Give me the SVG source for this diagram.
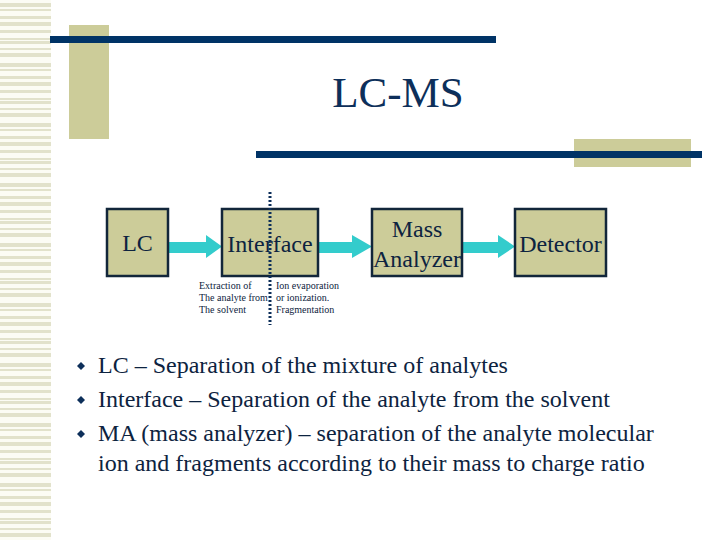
<svg xmlns="http://www.w3.org/2000/svg" width="720" height="540" viewBox="0 0 720 540">
<defs>
<pattern id="stripes" x="0" y="0" width="51" height="60" patternUnits="userSpaceOnUse">
<rect x="0" y="0" width="51" height="60" fill="#fcfcf4"/>
<rect x="0" y="3" width="51" height="4" fill="#e2e2cb"/>
<rect x="0" y="9" width="51" height="2" fill="#e2e2cb"/>
<rect x="0" y="16" width="51" height="3" fill="#e2e2cb"/>
<rect x="0" y="22" width="51" height="4" fill="#e2e2cb"/>
<rect x="0" y="30" width="51" height="3" fill="#e2e2cb"/>
<rect x="0" y="38" width="51" height="2" fill="#e2e2cb"/>
<rect x="0" y="41" width="51" height="3" fill="#e2e2cb"/>
<rect x="0" y="48" width="51" height="2" fill="#e2e2cb"/>
<rect x="0" y="53" width="51" height="4" fill="#e2e2cb"/>
</pattern>
</defs>
<style>
.box{fill:#cccc99;stroke:#12263a;stroke-width:2.5}
.arrow{fill:#33cccc}
.dia{fill:#0d2f5a}
</style>
<rect x="0" y="0" width="720" height="540" fill="#ffffff"/>
<rect x="0" y="0" width="51" height="540" fill="url(#stripes)"/>
<g id="decor">
<rect x="69" y="25" width="40" height="114" fill="#cccc99"/>
<rect x="50" y="36" width="446" height="7" fill="#003366"/>
<rect x="574" y="139" width="117" height="28" fill="#cccc99"/>
<rect x="256" y="151" width="446" height="7" fill="#003366"/>
</g>
<text id="title" x="398" y="107" font-family="'Liberation Serif', serif" font-size="43" fill="#0d2f5a" text-anchor="middle">LC-MS</text>
<g id="connectors">
<polygon class="arrow" points="168,242 206,242 206,235 222,246.5 206,258 206,253 168,253"/>
<polygon class="arrow" points="318,242 352,242 352,235 372,246.5 352,258 352,253 318,253"/>
<polygon class="arrow" points="462,242 498,242 498,235 515,246.5 498,258 498,253 462,253"/>
</g>
<g font-family="'Liberation Serif', serif" font-size="24" fill="#0d2340" text-anchor="middle">
<g id="lc"><rect class="box" x="107" y="209" width="61" height="67"/><text x="137.5" y="251">LC</text></g>
<g id="interface"><rect class="box" x="222" y="209" width="96" height="67"/><text x="270" y="252">Interface</text></g>
<g id="mass"><rect class="box" x="372" y="209" width="90" height="67"/><text x="417" y="237">Mass</text><text x="417" y="267">Analyzer</text></g>
<g id="detector"><rect class="box" x="515" y="209" width="91" height="67"/><text x="560.5" y="252">Detector</text></g>
</g>
<line id="divider" x1="270" y1="192" x2="270" y2="325" stroke="#0d2f5a" stroke-width="3" stroke-dasharray="2,2"/>
<g id="notes" font-family="'Liberation Serif', serif" font-size="10" fill="#0d2340">
<text x="199" y="289">Extraction of</text>
<text x="199" y="301">The analyte from</text>
<text x="199" y="313">The solvent</text>
<text x="276" y="289">Ion evaporation</text>
<text x="276" y="301">or ionization.</text>
<text x="276" y="313">Fragmentation</text>
</g>
<g id="bullets" font-family="'Liberation Serif', serif" font-size="24" fill="#0d2340">
<polygon class="dia" points="81,362 85,366 81,370 77,366"/>
<polygon class="dia" points="81,396 85,400 81,404 77,400"/>
<polygon class="dia" points="81,430 85,434 81,438 77,434"/>
<text x="98" y="373">LC – Separation of the mixture of analytes</text>
<text x="98" y="407">Interface – Separation of the analyte from the solvent</text>
<text x="98" y="441">MA (mass analyzer) – separation of the analyte molecular</text>
<text x="98" y="471">ion and fragments according to their mass to charge ratio</text>
</g>
</svg>
